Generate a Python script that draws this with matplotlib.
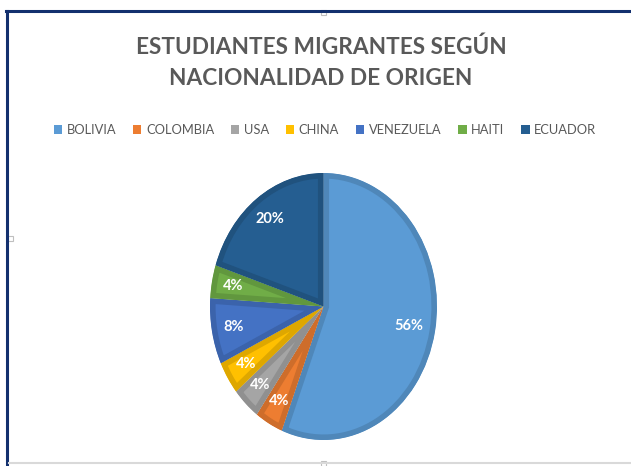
import matplotlib
matplotlib.use("Agg")
import matplotlib.pyplot as plt
from matplotlib.colors import to_rgb
from matplotlib.lines import Line2D
from matplotlib.patches import Rectangle

# data: 25 students by country of origin
paises = ["BOLIVIA", "COLOMBIA", "USA", "CHINA", "VENEZUELA", "HAITI", "ECUADOR"]
estudiantes = [14, 1, 1, 1, 2, 1, 5]
colores = ["#5B9BD5", "#ED7D31", "#A5A5A5", "#FFC000", "#4472C4", "#70AD47", "#255E91"]
titulo = "ESTUDIANTES MIGRANTES SEGÚN\nNACIONALIDAD DE ORIGEN"

plt.rcParams["font.family"] = ["Lato", "DejaVu Sans"]

W, H = 631, 466
fig = plt.figure(figsize=(W / 100, H / 100), dpi=100)
fig.patch.set_facecolor("white")

# pie area in pixels (ellipse, picture was squeezed horizontally)
cx, cy, rx, ry = 323.5, 306.5, 113.5, 133.5
ax = fig.add_axes([(cx - rx) / W, (H - cy - ry) / H, 2 * rx / W, 2 * ry / H])


def darker(c, f=0.87):
    r, g, b = to_rgb(c)
    return (r * f, g * f, b * f)


wedges, _, autotexts = ax.pie(
    estudiantes, colors=colores, startangle=90, counterclock=False,
    autopct="%1.0f%%", pctdistance=0.81,
    wedgeprops=dict(linewidth=8, edgecolor="none"),
    textprops=dict(color="white", fontsize=10.5, fontweight="bold"),
)
# inner darker band on every slice (Excel bevel look): stroke clipped to the slice
for w, c in zip(wedges, colores):
    w.set_edgecolor(darker(c))
    w.set_clip_on(True)
    w.set_clip_path(w)
autotexts[0].set_position((0.77 * 0.98, -0.77 * 0.19))

ax.set_aspect("auto")
ax.set_xlim(-1, 1)
ax.set_ylim(-1, 1)
ax.axis("off")

fig.text(321 / W, 1 - 63 / H, titulo, ha="center", va="center", fontsize=16.3,
         fontweight="bold", color="#595959", linespacing=1.6)

handles = [Rectangle((0, 0), 1, 1, facecolor=c, edgecolor="none") for c in colores]
fig.legend(handles, paises, loc="center", bbox_to_anchor=(325 / W, 1 - 130 / H),
           ncol=7, frameon=False, fontsize=9.3, labelcolor="#595959",
           handlelength=0.65, handleheight=0.65, handletextpad=0.35,
           columnspacing=1.3)

# chart frame
navy = "#13306E"
fig.add_artist(Line2D([6 / W, 1], [1 - 11 / H, 1 - 11 / H], color=navy, lw=2.2,
                      transform=fig.transFigure))
fig.add_artist(Line2D([7 / W, 7 / W], [0, 1 - 11 / H], color=navy, lw=2.2,
                      transform=fig.transFigure))
fig.add_artist(Line2D([9 / W, 1], [3 / H, 3 / H], color="#D9D9D9", lw=1.5,
                      transform=fig.transFigure))
for (px, py) in [(323, 12), (323, 463), (10, 238)]:
    fig.add_artist(Rectangle(((px - 2.5) / W, (H - py - 2.5) / H), 5 / W, 5 / H,
                             facecolor="white", edgecolor="#BFBFBF", lw=0.8,
                             transform=fig.transFigure))

fig.savefig("out.png", dpi=100)
